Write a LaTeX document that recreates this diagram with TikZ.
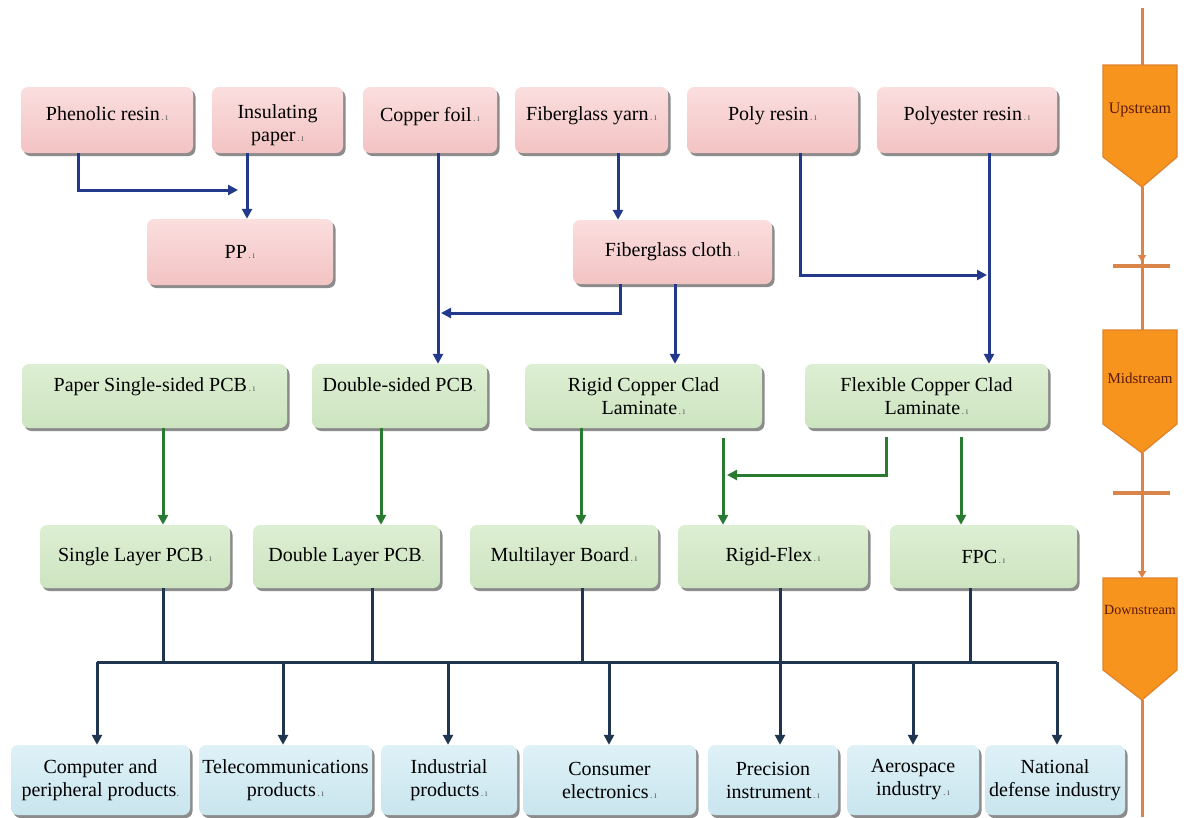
\documentclass[tikz,border=0pt]{standalone}
\usepackage{fontspec}
\setmainfont{Liberation Serif}
\usetikzlibrary{arrows.meta,shadows}
\definecolor{navy}{HTML}{233A8C}
\definecolor{dgreen}{HTML}{2A7A32}
\definecolor{slate}{HTML}{1F3550}
\definecolor{pinkT}{HTML}{FBDEDE}
\definecolor{pinkB}{HTML}{F3C3C3}
\definecolor{grnT}{HTML}{DDEFD3}
\definecolor{grnB}{HTML}{CDE4C0}
\definecolor{bluT}{HTML}{DEF1F7}
\definecolor{bluB}{HTML}{C9E5EE}
\definecolor{orgF}{HTML}{F7941D}
\definecolor{orgD}{HTML}{E0822A}
\definecolor{orgL}{HTML}{D98448}
\definecolor{lbl}{HTML}{5C1A0A}
\newcommand\eol{\kern1.5pt{\fontsize{10}{10}\selectfont\color{black!60}.\kern1.5pt ı}}
\newcommand\eod{{\fontsize{12}{12}\selectfont\color{black!60}.}}
\begin{document}
\begin{tikzpicture}[x=1pt,y=-1pt,line join=miter,
  box/.style={rounded corners=7pt, inner sep=0pt, align=center,
    font=\fontsize{20}{23}\selectfont, text=black,
    drop shadow={shadow xshift=2.5pt, shadow yshift=-3pt, opacity=0.6, fill=black!75}},
  pinkbox/.style={box, top color=pinkT, bottom color=pinkB},
  greenbox/.style={box, top color=grnT, bottom color=grnB},
  bluebox/.style={box, top color=bluT, bottom color=bluB},
  barrow/.style={navy, line width=3pt, -{Triangle[length=10pt,width=10pt]}},
  garrow/.style={dgreen, line width=3pt, -{Triangle[length=10pt,width=10pt]}},
  dline/.style={slate, line width=3pt},
  darrow/.style={slate, line width=3pt, -{Triangle[length=10pt,width=10pt]}},
  stage/.style={text=lbl, inner sep=0pt},
  oline/.style={orgL, line width=3pt},
  otip/.style={orgL, line width=3pt, -{Triangle[length=7pt,width=8pt]}},
  opent/.style={fill=orgF, draw=orgD, line width=1.2pt}
]
\useasboundingbox (0,0) rectangle (1191,817);
\fill[white] (0,0) rectangle (1191,817);

% ---------- row 1 (upstream raw materials)
\node[pinkbox, minimum width=172pt, minimum height=66pt] (phen) at (107,120) {Phenolic resin\eol\\[-11pt] \mbox{}};
\node[pinkbox, minimum width=131pt, minimum height=66pt] (insul) at (277.5,120) {\mbox{}\\[2pt]Insulating\\ paper\eol};
\node[pinkbox, minimum width=134pt, minimum height=66pt] (copper) at (430,120) {Copper foil\eol\\[-11pt] \mbox{}};
\node[pinkbox, minimum width=153pt, minimum height=66pt] (yarn) at (591.5,120) {Fiberglass yarn\eol\\[-11pt] \mbox{}};
\node[pinkbox, minimum width=171pt, minimum height=66pt] (poly) at (772.5,120) {Poly resin\eol\\[-11pt] \mbox{}};
\node[pinkbox, minimum width=180pt, minimum height=66pt] (polyester) at (967,120) {Polyester resin\eol\\[-11pt] \mbox{}};

% ---------- row 2
\node[pinkbox, minimum width=186pt, minimum height=66pt] (pp) at (240,252) {PP\eol};
\node[pinkbox, minimum width=199pt, minimum height=64pt] (cloth) at (672.5,252) {Fiberglass cloth\eol};

% ---------- row 3 (midstream)
\node[greenbox, minimum width=265pt, minimum height=64pt] (paper) at (154.5,396) {Paper Single-sided PCB\eol\\ \mbox{}};
\node[greenbox, minimum width=175pt, minimum height=64pt] (dsided) at (399.5,396) {Double-sided PCB\eod\\ \mbox{}};
\node[greenbox, minimum width=237pt, minimum height=64pt] (rigid) at (643.5,396) {Rigid Copper Clad\\ Laminate\eol};
\node[greenbox, minimum width=243pt, minimum height=64pt] (flex) at (926.5,396) {Flexible Copper Clad\\ Laminate\eol};

% ---------- row 4
\node[greenbox, minimum width=190pt, minimum height=63pt] (single) at (135,556.5) {Single Layer PCB\eol};
\node[greenbox, minimum width=187pt, minimum height=63pt] (double) at (346.5,556.5) {Double Layer PCB\eod};
\node[greenbox, minimum width=188pt, minimum height=63pt] (multi) at (564,556.5) {Multilayer Board\eol};
\node[greenbox, minimum width=190pt, minimum height=63pt] (rflex) at (773,556.5) {Rigid-Flex\eol};
\node[greenbox, minimum width=187pt, minimum height=63pt] (fpc) at (983.5,556.5) {FPC\eol};

% ---------- row 5 (downstream)
\node[bluebox, minimum width=179pt, minimum height=70pt] (comp) at (100.5,780) {Computer and\\ peripheral products\eod};
\node[bluebox, minimum width=173pt, minimum height=70pt] (tele) at (285.5,780) {Telecommunications\\ products\eol};
\node[bluebox, minimum width=136pt, minimum height=70pt] (indus) at (449,780) {Industrial\\ products\eol};
\node[bluebox, minimum width=173pt, minimum height=70pt] (cons) at (609.5,780) {Consumer\\ electronics\eol};
\node[bluebox, minimum width=130pt, minimum height=70pt] (prec) at (773,780) {Precision\\ instrument\eol};
\node[bluebox, minimum width=132pt, minimum height=70pt] (aero) at (913,780) {Aerospace\\ industry\eol};
\node[bluebox, minimum width=140pt, minimum height=70pt] (natl) at (1055,780) {National\\ defense industry};

% ---------- helper coordinates
\coordinate (xb1) at (78,0);
\coordinate (x247) at (247,0);
\coordinate (x438) at (438,0);
\coordinate (x618) at (618,0);
\coordinate (x620) at (620,0);
\coordinate (x675) at (675,0);
\coordinate (x800) at (800,0);
\coordinate (x989) at (989,0);
\coordinate (j1) at (238,190);
\coordinate (j2) at (441,313);
\coordinate (j3) at (987,275);
\coordinate (x163) at (163,0);
\coordinate (x381) at (381,0);
\coordinate (x581) at (581,0);
\coordinate (g4s) at (723,438);
\coordinate (g5s) at (886,437);
\coordinate (j4) at (727,475);
\coordinate (g6s) at (961,437);
\coordinate (x372) at (372,0);
\coordinate (x582) at (582,0);
\coordinate (x780) at (780,0);
\coordinate (x970) at (970,0);
\coordinate (x283) at (283,0);
\coordinate (x448) at (448,0);
\coordinate (x609) at (609,0);
\coordinate (x913) at (913,0);
\coordinate (hl) at (97,662);
\coordinate (hr) at (1057,662);

% ---------- blue connectors
\draw[barrow] (phen.south -| xb1) |- (j1);
\draw[barrow] (insul.south -| x247) -- (pp.north -| x247);
\draw[barrow] (copper.south -| x438) -- (dsided.north -| x438);
\draw[barrow] (yarn.south -| x618) -- (cloth.north -| x618);
\draw[barrow] (cloth.south -| x620) |- (j2);
\draw[barrow] (cloth.south -| x675) -- (rigid.north -| x675);
\draw[barrow] (poly.south -| x800) |- (j3);
\draw[barrow] (polyester.south -| x989) -- (flex.north -| x989);

% ---------- green connectors
\draw[garrow] (paper.south -| x163) -- (single.north -| x163);
\draw[garrow] (dsided.south -| x381) -- (double.north -| x381);
\draw[garrow] (rigid.south -| x581) -- (multi.north -| x581);
\draw[garrow] (g4s) -- (rflex.north -| g4s);
\draw[garrow] (g5s) |- (j4);
\draw[garrow] (g6s) -- (fpc.north -| g6s);

% ---------- bottom distribution
\draw[dline] (single.south -| x163) -- (hl -| x163);
\draw[dline] (double.south -| x372) -- (hl -| x372);
\draw[dline] (multi.south -| x582) -- (hl -| x582);
\draw[dline] (rflex.south -| x780) -- (hl -| x780);
\draw[dline] (fpc.south -| x970) -- (hl -| x970);
\draw[dline] (hl) -- (hr);
\draw[darrow] (hl) -- (comp.north -| hl);
\draw[darrow] (hl -| x283) -- (tele.north -| x283);
\draw[darrow] (hl -| x448) -- (indus.north -| x448);
\draw[darrow] (hl -| x609) -- (cons.north -| x609);
\draw[darrow] (hl -| x780) -- (prec.north -| x780);
\draw[darrow] (hl -| x913) -- (aero.north -| x913);
\draw[darrow] (hr) -- (natl.north -| hr);

% ---------- orange stage bar
\coordinate (otop) at (1142,8);
\coordinate (upT) at (1142,65);
\coordinate (upB) at (1142,187);
\coordinate (midT) at (1142,330);
\coordinate (midB) at (1142,453);
\coordinate (dnT) at (1142,578);
\coordinate (dnB) at (1142,700);
\coordinate (obot) at (1142,817);
\draw[oline] (otop) -- (upT);
\draw[otip] (upB) -- (1142,262);
\draw[oline] (1142,258) -- (midT);
\draw[oline] (midB) -- (1142,560);
\draw[otip] (1142,556) -- (dnT);
\draw[oline] (dnB) -- (obot);
\draw[orgL, line width=4pt] (1113,266) -- (1170,266);
\draw[orgL, line width=4pt] (1113,493) -- (1170,493);
\path[opent] (1103,65) -- (1177,65) -- (1177,157) -- (upB) -- (1103,157) -- cycle;
\path[opent] (1103,330) -- (1177,330) -- (1177,424) -- (midB) -- (1103,424) -- cycle;
\path[opent] (1103,578) -- (1177,578) -- (1177,670) -- (dnB) -- (1103,670) -- cycle;
\node[stage, font=\fontsize{16}{16}\selectfont] (up) at (1140,110) {Upstream};
\node[stage, font=\fontsize{15}{15}\selectfont] (mid) at (1140,378) {Midstream};
\node[stage, font=\fontsize{14}{14}\selectfont] (dn) at (1140,610) {Downstream};
\end{tikzpicture}
\end{document}
